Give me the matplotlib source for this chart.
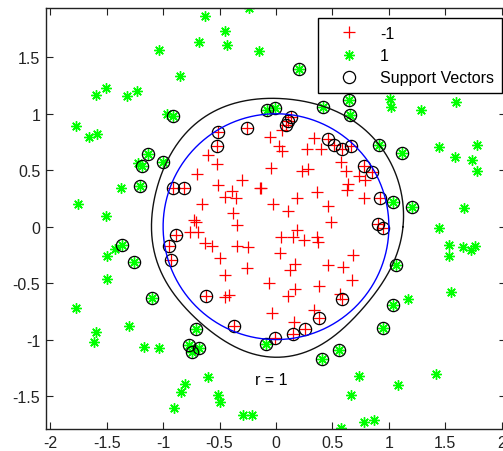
import numpy as np
import matplotlib
matplotlib.use('Agg')
import matplotlib.pyplot as plt

plt.rcParams['font.family'] = ['Liberation Sans', 'DejaVu Sans']

# classe -1 (pontos dentro do circulo)
neg_x = [0.050, -0.053, 0.334, 0.029, 0.050, 0.272, 0.399, -0.600, -0.525, -0.044,
         0.573, 0.617, 0.228, 0.286, -0.697, -0.298, 0.735, 0.785, -0.511, -0.139,
         -0.135, -0.387, -0.452, -0.357, -0.658, -0.024, 0.183, 0.360, 0.640, 0.626,
         0.782, 0.463, 0.109, -0.378, -0.726, -0.711, -0.348, 0.487, -0.762, -0.694,
         0.183, 0.044, 0.148, 0.251, 0.360, 0.375, -0.629, -0.564, -0.348, -0.245,
         0.035, 0.685, -0.496, -0.254, 0.168, 0.124, 0.463, 0.596, 0.670, -0.452,
         -0.062, 0.168, 0.384, -0.452, -0.416, 0.109, 0.567, -0.038, 0.339, 0.162]
neg_y = [0.859, 0.797, 0.783, 0.712, 0.668, 0.688, 0.686, 0.635, 0.555, 0.520,
         0.570, 0.496, 0.491, 0.511, 0.467, 0.413, 0.445, 0.415, 0.369, 0.340,
         0.345, 0.319, 0.260, 0.254, 0.201, 0.201, 0.254, 0.305, 0.378, 0.325,
         0.251, 0.186, 0.142, 0.119, 0.059, 0.039, 0.018, 0.039, -0.050, -0.050,
         -0.029, -0.089, -0.089, -0.118, -0.094, -0.138, -0.147, -0.168, -0.168, -0.183,
         -0.233, -0.248, -0.275, -0.363, -0.328, -0.386, -0.342, -0.357, -0.469, -0.430,
         -0.499, -0.549, -0.528, -0.623, -0.608, -0.614, -0.593, -0.764, -0.741, -0.844]

# classe -1, vetores de suporte
neg_sv_x = [-0.511, -0.254, -0.525, 0.130, 0.104, 0.086, 0.463, 0.516, 0.587, 0.661,
            0.777, 0.848, -0.909, -0.812, 0.921, 0.901, 0.951, -0.888, -0.945, -0.933,
            -0.623, 0.587, 0.384, -0.369, 0.257, 0.153, -0.009]
neg_sv_y = [0.836, 0.872, 0.712, 0.969, 0.939, 0.903, 0.774, 0.726, 0.688, 0.717,
            0.540, 0.482, 0.343, 0.343, 0.251, 0.024, -0.014, -0.074, -0.168, -0.295,
            -0.617, -0.638, -0.809, -0.882, -0.903, -0.948, -0.983]

# classe 1 (pontos fora do circulo)
pos_x = [-1.769, -1.654, -1.583, -1.594, -1.506, -1.317, -1.229, -1.040, -0.968, -0.629,
         -0.239, -0.454, -0.685, -0.431, -0.153, -0.848, 1.010, 1.021, 1.282, 1.594,
         1.444, 1.777, 1.585, 1.739, 1.783, 1.662, 1.444, 1.535, 1.659, 1.727,
         1.760, 1.535, 1.547, 1.172, 0.738, 1.420, 1.083, 0.661, 0.779, 0.871,
         0.576, -0.605, -0.803, -0.844, -0.903, -0.511, -0.499, -0.295, -0.213, -1.500,
         -1.769, -1.302, -1.592, -1.615, -1.172, -1.039, -1.225, -1.376, -1.756, -1.506,
         -1.423, -1.500]
pos_y = [0.892, 0.795, 0.824, 1.169, 1.229, 1.160, 1.205, 1.567, 0.998, 1.869,
         1.934, 1.736, 1.633, 1.609, 1.553, 1.335, 1.131, 1.063, 1.034, 1.107,
         0.703, 0.726, 0.615, 0.594, 0.490, 0.163, -0.012, -0.162, -0.177, -0.204,
         -0.168, -0.260, -0.581, -0.640, -1.322, -1.302, -1.402, -1.488, -1.733, -1.715,
         -1.786, -1.334, -1.391, -1.467, -1.609, -1.488, -1.550, -1.668, -1.668, -0.463,
         -0.720, -0.880, -0.933, -1.018, -1.068, -1.077, 0.561, 0.346, 0.198, 0.095,
         -0.195, -0.260]

# classe 1, vetores de suporte
pos_sv_x = [-0.082, -0.009, 0.414, 0.647, 0.653, 0.912, 1.119, 1.033, 1.207, 1.066,
            1.033, 0.948, 0.558, 0.405, -0.086, -0.711, -0.773, -0.741, -0.679, -1.096,
            -1.260, -1.367, -1.202, -1.184, -1.136, -1.001, -0.915, 0.206]
pos_sv_y = [1.034, 1.049, 1.063, 1.125, 0.989, 0.726, 0.653, 0.222, 0.171, -0.337,
            -0.694, -0.900, -1.092, -1.172, -1.042, -0.909, -1.048, -1.107, -1.077, -0.632,
            -0.316, -0.162, 0.360, 0.535, 0.644, 0.576, 0.978, 1.400]

# fronteira de decisao do SVM (raio a cada 15 graus)
bnd_angle = list(range(0, 360, 15))
bnd_radius = [1.125, 1.145, 1.170, 1.162, 1.155, 1.140, 1.135, 1.150, 1.160, 1.150,
              1.120, 1.112, 1.100, 1.102, 1.080, 1.085, 1.095, 1.130, 1.158, 1.140,
              1.090, 1.050, 1.070, 1.090]
true_radius = 1

fig = plt.figure(figsize=(5.03, 4.52), dpi=100)
ax = fig.add_axes([45.7 / 503, 22 / 452, 460.6 / 503, 420.7 / 452])

ax.plot(neg_x + neg_sv_x, neg_y + neg_sv_y, '+', color='#ff0000',
        markersize=8, mew=0.9, linestyle='none', label='-1')
ax.plot(pos_x + pos_sv_x, pos_y + pos_sv_y, marker=(8, 2, 0), color='#00ff00',
        markersize=7.5, mew=1.0, linestyle='none', label='1')
ax.plot(neg_sv_x + pos_sv_x, neg_sv_y + pos_sv_y, 'o', mfc='none', mec='black',
        markersize=8.8, mew=0.9, linestyle='none', label='Support Vectors')

# curva fechada a partir dos raios: so os primeiros harmonicos, para ficar suave
n_fine = 720
spec = np.fft.rfft(bnd_radius)
spec[6:] = 0
r_fine = np.fft.irfft(spec, n=n_fine) * n_fine / len(bnd_radius)
t_fine = np.linspace(0, 2 * np.pi, n_fine, endpoint=False)
r_fine = np.append(r_fine, r_fine[0])
t_fine = np.append(t_fine, 2 * np.pi)
ax.plot(r_fine * np.cos(t_fine), r_fine * np.sin(t_fine), color='#111111', lw=1.0)

t = np.linspace(0, 2 * np.pi, 400)
ax.plot(true_radius * np.cos(t), true_radius * np.sin(t), color='#0000ff', lw=1.0)

ax.text(-0.04, -1.35, 'r = 1', fontsize=11.5, ha='center', va='center')

ax.set_xlim(-2.04, 2.04)
ax.set_ylim(-1.792, 1.934)
ax.set_xticks(np.arange(-2, 2.01, 0.5))
ax.set_xticklabels(['-2', '-1.5', '-1', '-0.5', '0', '0.5', '1', '1.5', '2'])
ax.set_yticks(np.arange(-1.5, 1.51, 0.5))
ax.set_yticklabels(['-1.5', '-1', '-0.5', '0', '0.5', '1', '1.5'])
ax.tick_params(direction='in', top=True, right=True, length=5, width=0.8,
               labelsize=11.5, colors='#222222', pad=4)
for s in ax.spines.values():
    s.set_linewidth(1.0)
    s.set_color('#222222')

leg = ax.legend(loc='upper right', bbox_to_anchor=(502 / 503, 1 - 19 / 452),
                bbox_transform=fig.transFigure, borderaxespad=0, fancybox=False,
                edgecolor='black', framealpha=1, numpoints=1, fontsize=11.5,
                borderpad=0.5, handlelength=2.9, handletextpad=0.5, labelspacing=0.45)
leg.get_frame().set_linewidth(1.0)

fig.savefig('out.png', dpi=100)
